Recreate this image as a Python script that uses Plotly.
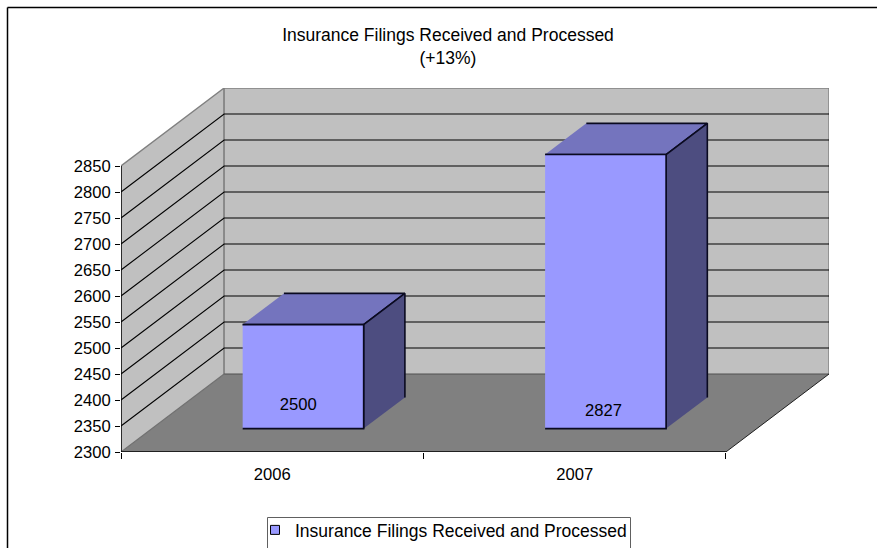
import plotly.graph_objects as go

title_lines = ["Insurance Filings Received and Processed", "(+13%)"]
series_name = "Insurance Filings Received and Processed"
categories = ["2006", "2007"]
values = [2500, 2827]
y_ticks = [2300, 2350, 2400, 2450, 2500, 2550, 2600, 2650, 2700, 2750, 2800, 2850]

W, H = 877, 548
ML, MR, MT, MB = 121, 48, 88, 96
Y0, Y1 = y_ticks[0], y_ticks[-1]
DEPTH_V = 150.0     # wall depth in value units
DEPTH_C = 0.341     # wall depth in category units
N = len(categories)
BAR_W = 0.4
D_FRONT, D_BACK = 0.3, 0.7
WALL = "#C0C0C0"; FLOOR = "#808080"; EDGE = "#808080"
FRONT = "#9999FF"; TOP = "#7474BE"; SIDE = "#4D4D80"; BAR_EDGE = "#0A0A20"
TEXT_FS = 17.5
NUM_FS = 16.6


def P(c, v, d=0.0):
    return c + d * DEPTH_C, v + d * DEPTH_V


fig = go.Figure()


def poly(pts, fill=None, line="rgba(0,0,0,0)", width=1, **kw):
    xs = [p[0] for p in pts]
    ys = [p[1] for p in pts]
    t = dict(x=xs, y=ys, mode="lines", line=dict(color=line, width=width),
             hoverinfo="skip", showlegend=False, cliponaxis=False)
    if fill:
        t.update(fill="toself", fillcolor=fill)
    t.update(kw)
    fig.add_trace(go.Scatter(**t))


# walls and floor
poly([P(0, Y0), P(0, Y1), P(0, Y1, 1), P(0, Y0, 1)], WALL, EDGE, 1.4)
poly([P(0, Y0, 1), P(0, Y1, 1), P(N, Y1, 1), P(N, Y0, 1)], WALL, EDGE, 1.4)
poly([P(0, Y0), P(N, Y0), P(N, Y0, 1), P(0, Y0, 1)], FLOOR)

# gridlines
for v in y_ticks[1:-1]:
    poly([P(0, v), P(0, v, 1), P(N, v, 1)], None, "#000000", 1.1)

# floor and axis edges
poly([P(0, Y0, 1), P(N, Y0, 1)], None, "#505050", 1.2)
poly([P(0, Y0), P(0, Y0, 1)], None, "#707070", 1.2)
poly([P(N, Y0), P(N, Y0, 1)], None, "#202020", 1)
poly([P(0, Y0), P(N, Y0)], None, "#000000", 1.4)
poly([P(0, Y0), P(0, Y1)], None, "#000000", 1.4)

# bars
for i, v in enumerate(values):
    c0 = i + 0.5 - BAR_W / 2
    c1 = i + 0.5 + BAR_W / 2
    poly([P(c0, v, D_FRONT), P(c1, v, D_FRONT), P(c1, v, D_BACK), P(c0, v, D_BACK)],
         TOP, BAR_EDGE, 1.6)
    poly([P(c1, Y0, D_FRONT), P(c1, v, D_FRONT), P(c1, v, D_BACK), P(c1, Y0, D_BACK)],
         SIDE, BAR_EDGE, 1.6)
    poly([P(c0, Y0, D_FRONT), P(c1, Y0, D_FRONT), P(c1, v, D_FRONT), P(c0, v, D_FRONT)],
         FRONT, BAR_EDGE, 1.6)

# value labels
label_x = [0.484, 1.493]
label_v = [2388, 2377]
for i, v in enumerate(values):
    cx, _ = P(label_x[i], 0, D_FRONT)
    fig.add_trace(go.Scatter(
        x=[cx], y=[label_v[i]], mode="text", text=[str(v)],
        textposition="middle center",
        textfont=dict(family="Liberation Sans", size=NUM_FS, color="#000000"),
        hoverinfo="skip", showlegend=False))

# legend entry
fig.add_trace(go.Scatter(
    x=[None], y=[None], mode="markers", name=series_name,
    marker=dict(symbol="square", size=9, color=FRONT, line=dict(color="#000000", width=1)),
    hoverinfo="skip"))


def px(p):
    return (p - ML) / (W - ML - MR)


def py(p):
    return (H - MB - p) / (H - MT - MB)


shapes = [
    dict(type="line", xref="paper", yref="paper", x0=px(7.5), x1=px(W), y0=py(7.5), y1=py(7.5),
         line=dict(color="#000000", width=1.5)),
    dict(type="line", xref="paper", yref="paper", x0=px(7.5), x1=px(7.5), y0=py(7.5), y1=py(H),
         line=dict(color="#000000", width=1.5)),
    dict(type="rect", xref="paper", yref="paper", x0=px(267.5), x1=px(630.5), y0=py(517.5), y1=py(H + 4),
         fillcolor="#FFFFFF", line=dict(color="#606060", width=1)),
]

fig.update_layout(
    width=W, height=H,
    margin=dict(l=ML, r=MR, t=MT, b=MB, pad=0, autoexpand=False),
    paper_bgcolor="#FFFFFF", plot_bgcolor="rgba(0,0,0,0)",
    font=dict(family="Liberation Sans", size=TEXT_FS, color="#000000"),
    title=dict(text="<br>".join(title_lines), x=448 / W, xref="container", xanchor="center",
               y=1 - 41 / H, yref="container", yanchor="top",
               font=dict(family="Liberation Sans", size=TEXT_FS, color="#000000")),
    shapes=shapes,
    showlegend=True,
    legend=dict(x=px(270), y=py(512), xanchor="left", yanchor="top",
                bgcolor="rgba(0,0,0,0)", borderwidth=0,
                indentation=-15,
                font=dict(family="Liberation Sans", size=TEXT_FS, color="#000000")),
    xaxis=dict(range=[0, N + DEPTH_C], showgrid=False, zeroline=False, showline=False,
               tickmode="array", tickvals=[i + 0.5 for i in range(N)], ticktext=categories,
               ticks="outside", ticklen=7, tickcolor="rgba(0,0,0,0)", tickfont=dict(size=NUM_FS),
               minor=dict(tickmode="array", tickvals=list(range(N + 1)), ticks="outside",
                          ticklen=6, tickcolor="#000000", tickwidth=1, showgrid=False)),
    yaxis=dict(range=[Y0, Y1 + DEPTH_V], showgrid=False, zeroline=False, showline=False,
               tickmode="array", tickvals=y_ticks, ticks="outside", ticklen=5,
               tickcolor="#000000", tickwidth=1, tickfont=dict(size=NUM_FS),
               ticklabelstandoff=1),
)

fig.write_html("out.html", config=dict(displayModeBar=False),
               post_script="document.body.style.margin='0';document.body.style.overflow='hidden';")
